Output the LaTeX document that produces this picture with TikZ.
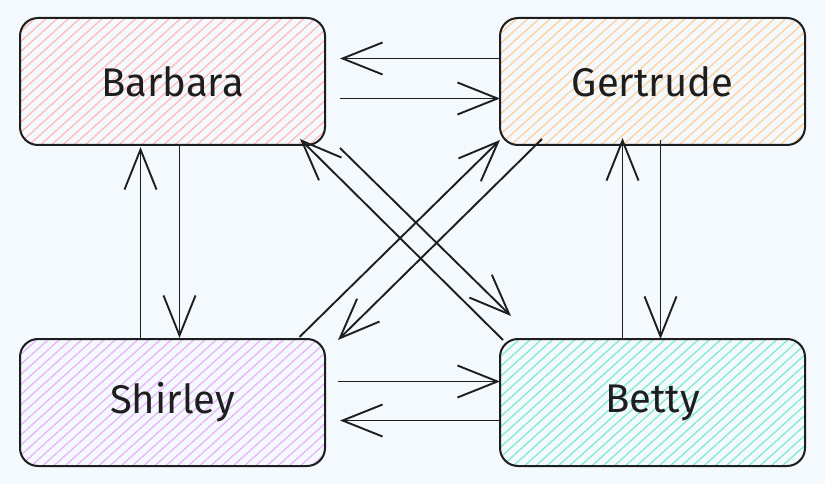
\documentclass[tikz,border=0pt]{standalone}
\usepackage{fontspec}
\setmainfont{Fira Sans}
\usetikzlibrary{positioning, arrows.meta, patterns.meta}
\definecolor{pagebg}{HTML}{F4F9FD}
\definecolor{ink}{HTML}{1E1E1E}
\definecolor{hatchred}{HTML}{FFBABA}
\definecolor{hatchorange}{HTML}{FFD09C}
\definecolor{hatchviolet}{HTML}{EAB4F8}
\definecolor{hatchteal}{HTML}{82EBCC}

\begin{document}
\begin{tikzpicture}[
  x=1pt, y=-1pt,
  font=\fontsize{40}{44}\selectfont,
  node distance=194pt and 175pt,
  box/.style={draw=ink, line width=2pt, rounded corners=18pt, text=ink,
    minimum width=305pt, minimum height=127pt, inner sep=0pt, outer sep=0pt,
    pattern={Lines[angle=42, distance=7.5pt, line width=1.3pt]}},
  arr/.style={-{Straight Barb[length=40pt, width=32pt]}, line width=1.9pt, draw=ink}
]
  \fill[pagebg] (0,0) rectangle (825,484);
  \useasboundingbox (0,0) rectangle (825,484);

  \node[box, pattern color=hatchred] (barbara) at (172.5,81.5) {Barbara};
  \node[box, pattern color=hatchorange, right=of barbara] (gertrude) {Gertrude};
  \node[box, pattern color=hatchviolet, below=of barbara] (shirley) {Shirley};
  \node[box, pattern color=hatchteal, right=of shirley] (betty) {Betty};

  % top and bottom pairs
  \draw[arr] ([yshift=23pt]gertrude.west) -- ([xshift=15pt, yshift=23pt]barbara.east);
  \draw[arr] ([xshift=15pt, yshift=-17pt]barbara.east) -- ([yshift=-17pt]gertrude.west);
  \draw[arr] ([xshift=13pt, yshift=21pt]shirley.east) -- ([yshift=21pt]betty.west);
  \draw[arr] ([yshift=-18pt]betty.west) -- ([xshift=15pt, yshift=-18pt]shirley.east);

  % left and right pairs
  \draw[arr] ([xshift=-32pt]shirley.north) -- ([xshift=-32pt, yshift=-2pt]barbara.south);
  \draw[arr] ([xshift=7pt]barbara.south) -- ([xshift=7pt, yshift=1pt]shirley.north);
  \draw[arr] ([xshift=8pt, yshift=5pt]gertrude.south) -- ([xshift=8pt]betty.north);
  \draw[arr] ([xshift=-30pt]betty.north) -- ([xshift=-30pt, yshift=7pt]gertrude.south);

  % crossing diagonals
  \draw[arr] ([xshift=127pt, yshift=2pt]shirley.north) -- ([yshift=5pt]gertrude.south west);
  \draw[arr] ([xshift=42pt, yshift=6pt]gertrude.south west) -- ([xshift=13pt, yshift=-1pt]shirley.north east);
  \draw[arr] ([xshift=15pt, yshift=-3pt]barbara.south east) -- ([xshift=11pt, yshift=23pt]betty.north west);
  \draw[arr] ([xshift=3pt, yshift=-1pt]betty.north west) -- ([xshift=-25pt, yshift=6pt]barbara.south east);
\end{tikzpicture}
\end{document}
